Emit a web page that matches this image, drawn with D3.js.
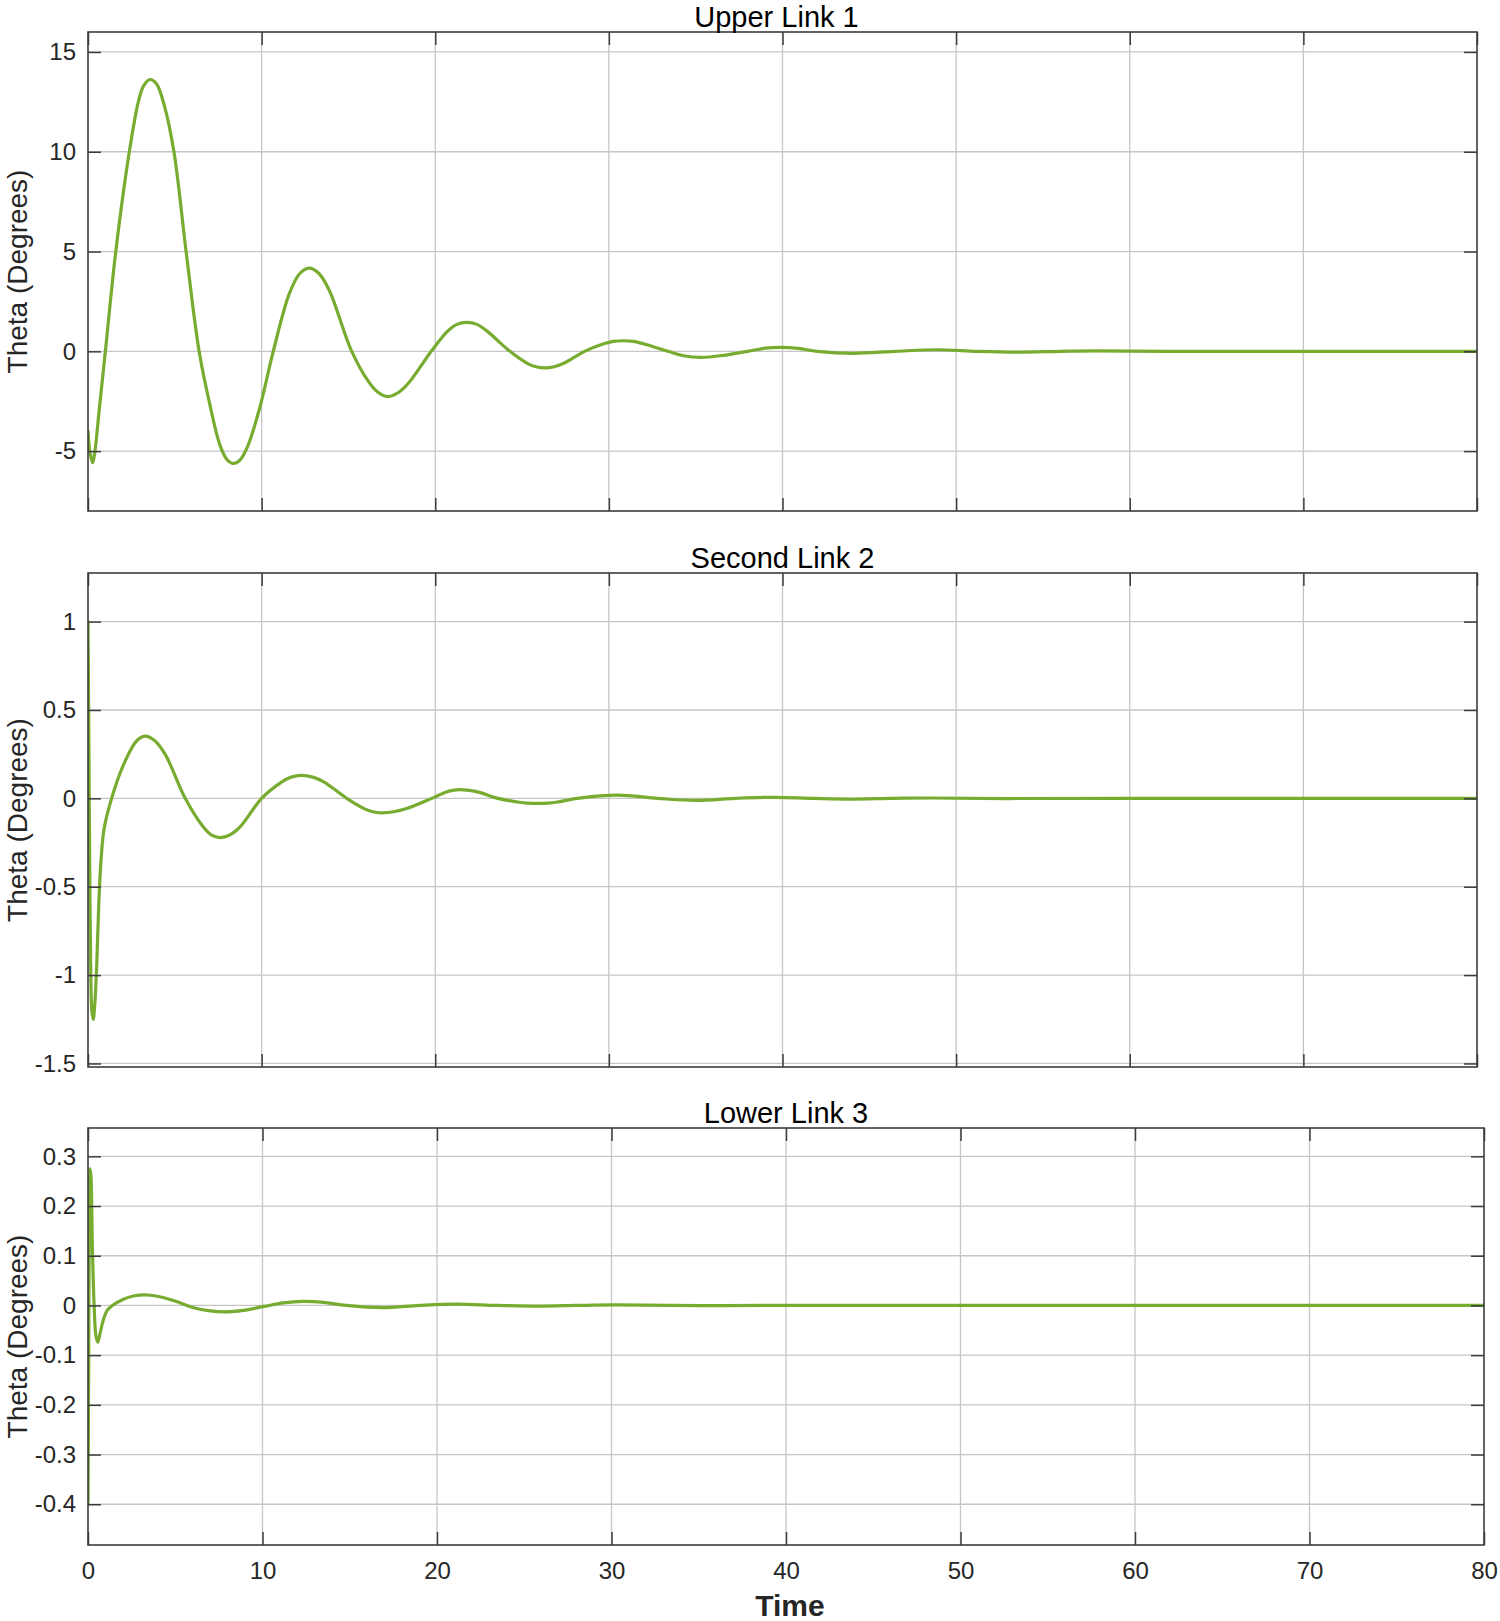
<!DOCTYPE html>
<html>
<head>
<meta charset="utf-8">
<script src="https://cdn.jsdelivr.net/npm/d3@7"></script>
<style>
  html, body { margin: 0; padding: 0; background: #fff; }
  svg { display: block; font-family: Arial, "Liberation Sans", Helvetica, sans-serif; }
</style>
</head>
<body>
<svg id="chart" width="1500" height="1621"></svg>
<script>
// ---------- data ----------
const xTicks = [0, 10, 20, 30, 40, 50, 60, 70, 80];
const xTickLabels = ["0", "10", "20", "30", "40", "50", "60", "70", "80"];

const titles = ["Upper Link 1", "Second Link 2", "Lower Link 3"];
const yLabel = "Theta (Degrees)";
const xLabel = "Time";

const yTicks1 = [-5, 0, 5, 10, 15];
const yTickLabels1 = ["-5", "0", "5", "10", "15"];
const yTicks2 = [-1.5, -1, -0.5, 0, 0.5, 1];
const yTickLabels2 = ["-1.5", "-1", "-0.5", "0", "0.5", "1"];
const yTicks3 = [-0.4, -0.3, -0.2, -0.1, 0, 0.1, 0.2, 0.3];
const yTickLabels3 = ["-0.4", "-0.3", "-0.2", "-0.1", "0", "0.1", "0.2", "0.3"];

const time1 = [0, 0.12, 0.27, 0.4, 0.65, 1.0, 1.6, 2.38, 2.9, 3.2, 3.57, 3.95, 4.4, 4.95, 5.65, 6.4, 7.0, 7.6, 8.0, 8.37, 8.75, 9.2, 9.9, 10.67,
  11.6, 12.2, 12.75, 13.3, 13.9, 15.19, 16.2, 16.7, 17.27, 17.9, 18.5, 19.77, 20.7, 21.25, 21.8, 22.4, 23.0, 24.3, 25.3, 25.8, 26.3, 26.85, 27.4, 28.6,
  29.7, 30.25, 30.8, 31.4, 32.0, 33.4, 34.3, 35.3, 36.6, 38.0, 39.0, 39.9, 40.9, 42.0, 44.1, 46.5, 48.9, 51.2, 53.5, 56.0, 58.0, 62.0, 70.0, 80];
const theta1 = [-4.0, -5.1, -5.58, -5.0, -2.9, 0, 5, 10, 12.5, 13.3, 13.62, 13.4, 12.3, 10, 5, 0, -2.6, -4.7, -5.42, -5.62, -5.45, -4.75, -2.8, 0,
  2.9, 3.9, 4.17, 3.9, 3.05, 0, -1.57, -2.05, -2.27, -2.05, -1.55, 0, 1.0, 1.35, 1.45, 1.35, 1.0, 0, -0.6, -0.77, -0.83, -0.77, -0.6, 0,
  0.38, 0.5, 0.53, 0.5, 0.38, 0, -0.22, -0.3, -0.2, 0, 0.16, 0.2, 0.15, 0, -0.1, 0, 0.08, 0, -0.04, 0, 0.025, 0, 0, 0];

const time2 = [0, 0.05, 0.1, 0.16, 0.22, 0.3, 0.38, 0.5, 0.62, 0.75, 0.93, 1.36, 2.0, 2.8, 3.28, 3.8, 4.44, 5.6,
  6.6, 7.1, 7.6, 8.2, 8.8, 10.0, 11.15, 11.7, 12.3, 12.95, 13.6, 14.9, 15.9, 16.4, 16.9, 17.6, 18.35, 19.8,
  20.6, 21.0, 21.4, 21.95, 22.5, 23.6, 24.75, 25.3, 25.9, 26.5, 27.05, 28.2,
  30.5, 32.8, 35.0, 37.3, 39.5, 41.8, 44.0, 46.3, 48.5, 53.0, 60.0, 70.0, 80];
const theta2 = [1.0, 0.3, -0.4, -1.0, -1.2, -1.25, -1.18, -0.95, -0.6, -0.35, -0.17, 0, 0.18, 0.325, 0.352, 0.33, 0.25, 0,
  -0.157, -0.207, -0.222, -0.205, -0.157, 0, 0.092, 0.12, 0.13, 0.12, 0.092, 0, -0.058, -0.076, -0.082, -0.076, -0.058, 0,
  0.035, 0.045, 0.049, 0.045, 0.035, 0, -0.0205, -0.027, -0.029, -0.027, -0.0205, 0,
  0.018, 0, -0.012, 0, 0.006, 0, -0.004, 0, 0.002, -0.001, 0, 0, 0];

const time3 = [0, 0.04, 0.08, 0.12, 0.17, 0.25, 0.35, 0.45, 0.56, 0.7, 0.88, 1.1, 1.4, 2.0, 2.6, 3.4, 4.3, 5.3, 6.0, 7.0, 7.9,
  8.9, 10.1, 11.2, 12.3, 13.5, 14.8, 16.9, 19.0, 21.1, 23.5, 26.0, 28.0, 30.2, 35.0, 40.0, 50.0, 65.0, 80];
const theta3 = [-0.40, -0.1, 0.2, 0.275, 0.26, 0.12, 0.0, -0.06, -0.074, -0.055, -0.029, -0.01, 0.0, 0.012, 0.019, 0.021, 0.016, 0.005, -0.004, -0.011, -0.013,
  -0.01, -0.002, 0.005, 0.008, 0.006, 0, -0.0045, 0, 0.0027, 0, -0.0013, 0, 0.001, -0.0005, 0.0003, 0, 0, 0];

// ---------- layout ----------
const svg = d3.select("#chart");
const lineColor = "#77ac30";
const gridColor = "#c6c6c6";
const axisColor = "#3c3c3c";
const textColor = "#262626";

const panels = [
  { title: titles[0], titleDx: -6, top: 32, bottom: 511, left: 88, right: 1477, yDomain: [-8, 16], yTicks: yTicks1, yTickLabels: yTickLabels1, t: time1, v: theta1, showX: false },
  { title: titles[1], titleDx: 0, top: 573, bottom: 1067, left: 88, right: 1477, yDomain: [-1.52, 1.275], yTicks: yTicks2, yTickLabels: yTickLabels2, t: time2, v: theta2, showX: false },
  { title: titles[2], titleDx: 0, top: 1128, bottom: 1545, left: 88, right: 1484, yDomain: [-0.482, 0.357], yTicks: yTicks3, yTickLabels: yTickLabels3, t: time3, v: theta3, showX: true }
];

panels.forEach((p, i) => {
  const x = d3.scaleLinear().domain([0, 80]).range([p.left, p.right]);
  const y = d3.scaleLinear().domain(p.yDomain).range([p.bottom, p.top]);
  const g = svg.append("g");

  // grid
  g.selectAll(".gx").data(xTicks.filter(d => d > 0 && d < 80)).enter().append("line")
    .attr("x1", d => x(d)).attr("x2", d => x(d)).attr("y1", p.top).attr("y2", p.bottom)
    .attr("stroke", gridColor).attr("stroke-width", 1.3);
  g.selectAll(".gy").data(p.yTicks).enter().append("line")
    .attr("x1", p.left).attr("x2", p.right).attr("y1", d => y(d)).attr("y2", d => y(d))
    .attr("stroke", gridColor).attr("stroke-width", 1.3);

  // clip + line
  const clipId = "clip" + i;
  svg.append("clipPath").attr("id", clipId).append("rect")
    .attr("x", p.left).attr("y", p.top).attr("width", p.right - p.left).attr("height", p.bottom - p.top);
  const pts = p.t.map((t, k) => [t, p.v[k]]);
  g.append("path").datum(pts)
    .attr("clip-path", `url(#${clipId})`)
    .attr("fill", "none").attr("stroke", lineColor).attr("stroke-width", 3.2)
    .attr("stroke-linejoin", "round").attr("stroke-linecap", "round")
    .attr("d", d3.line().x(d => x(d[0])).y(d => y(d[1])).curve(d3.curveCatmullRom.alpha(0.5)));

  // axes with inward ticks (left/right/top/bottom)
  const tl = 13;
  const axL = d3.axisLeft(y).tickValues(p.yTicks).tickSize(-tl).tickFormat((d, k) => p.yTickLabels[k]).tickPadding(12);
  const axR = d3.axisRight(y).tickValues(p.yTicks).tickSize(-tl).tickFormat("");
  const axB = d3.axisBottom(x).tickValues(xTicks).tickSize(-tl).tickFormat((d, k) => p.showX ? xTickLabels[k] : "").tickPadding(17);
  const axT = d3.axisTop(x).tickValues(xTicks).tickSize(-tl).tickFormat("");

  const styleAxis = sel => {
    sel.select(".domain").remove();
    sel.selectAll(".tick line").attr("stroke", axisColor).attr("stroke-width", 1.5);
    sel.selectAll(".tick text").attr("fill", textColor).style("font-size", "24px")
      .style("font-family", "Arial, 'Liberation Sans', Helvetica, sans-serif");
  };
  g.append("g").attr("transform", `translate(${p.left},0)`).call(axL).call(styleAxis);
  g.append("g").attr("transform", `translate(${p.right},0)`).call(axR).call(styleAxis);
  g.append("g").attr("transform", `translate(0,${p.bottom})`).call(axB).call(styleAxis);
  g.append("g").attr("transform", `translate(0,${p.top})`).call(axT).call(styleAxis);

  // box
  g.append("rect").attr("x", p.left).attr("y", p.top)
    .attr("width", p.right - p.left).attr("height", p.bottom - p.top)
    .attr("fill", "none").attr("stroke", axisColor).attr("stroke-width", 1.6);

  // title
  g.append("text").attr("x", (p.left + p.right) / 2 + p.titleDx).attr("y", p.top - 5)
    .attr("text-anchor", "middle").attr("fill", "#000")
    .style("font-size", "29px").text(p.title);

  // y label
  g.append("text")
    .attr("transform", `translate(27,${(p.top + p.bottom) / 2}) rotate(-90)`)
    .attr("text-anchor", "middle").attr("fill", textColor)
    .style("font-size", "28px").text(yLabel);

  if (p.showX) {
    g.append("text").attr("x", (p.left + p.right) / 2 + 4).attr("y", 1616)
      .attr("text-anchor", "middle").attr("fill", textColor)
      .style("font-size", "30px").style("font-weight", "bold").text(xLabel);
  }
});
</script>
</body>
</html>
